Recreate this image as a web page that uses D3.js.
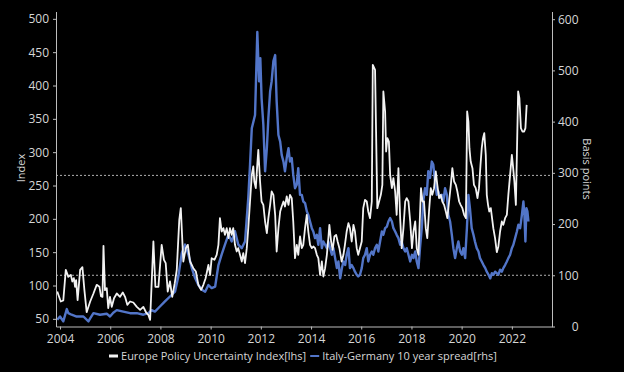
<!DOCTYPE html>
<html><head><meta charset="utf-8">
<script src="https://cdn.jsdelivr.net/npm/d3@7"></script>
<style>
html,body{margin:0;padding:0;background:#000;}
svg{display:block;}
text{font-family:"Open Sans",sans-serif;}
</style></head>
<body>
<svg id="chart" width="624" height="372"></svg>
<script>
// ---- data (decimal year, value) ----
const epuSeries = [[2003.89,91],[2004.03,76],[2004.13,77.5],[2004.23,123.5],[2004.33,113],[2004.43,116],[2004.49,106],[2004.55,111],[2004.60,98],[2004.64,108],[2004.70,78],[2004.80,123.5],[2004.89,127.5],[2004.97,93],[2005.06,60],[2005.20,76],[2005.33,88],[2005.46,101],[2005.57,98],[2005.63,84],[2005.69,83],[2005.73,159.5],[2005.79,93],[2005.86,96],[2005.92,66],[2005.99,83],[2006.06,68],[2006.15,81],[2006.26,88],[2006.39,83],[2006.50,89.5],[2006.59,83],[2006.68,71],[2006.79,76],[2006.92,74.5],[2007.06,68],[2007.19,63.5],[2007.32,68],[2007.43,59.5],[2007.52,56],[2007.59,48.5],[2007.72,166],[2007.80,98],[2007.92,98],[2008.05,161],[2008.14,138.5],[2008.21,133.5],[2008.29,91],[2008.38,106],[2008.47,83],[2008.57,103.5],[2008.65,123.5],[2008.75,198.5],[2008.81,216],[2008.91,136],[2009.01,156],[2009.09,161],[2009.18,136],[2009.31,126],[2009.41,121],[2009.51,101],[2009.62,93.5],[2009.71,101],[2009.80,111],[2009.91,131],[2009.98,116],[2010.04,141],[2010.15,138.5],[2010.24,146],[2010.31,161],[2010.37,201],[2010.44,181],[2010.51,186],[2010.57,176],[2010.64,186],[2010.71,171],[2010.77,186],[2010.84,176],[2010.90,186],[2010.97,161],[2011.04,151],[2011.10,156],[2011.17,146],[2011.24,136],[2011.30,148.5],[2011.37,133.5],[2011.44,156],[2011.50,186],[2011.57,226],[2011.64,266],[2011.70,278.5],[2011.74,256],[2011.80,246],[2011.85,276],[2011.90,303.5],[2011.97,256],[2012.03,226],[2012.10,221],[2012.17,196],[2012.24,178.5],[2012.30,201],[2012.37,221],[2012.43,241],[2012.50,236],[2012.57,206],[2012.63,151],[2012.70,186],[2012.77,211],[2012.83,218.5],[2012.90,226],[2012.96,218.5],[2013.03,233.5],[2013.10,221],[2013.16,236],[2013.23,231],[2013.29,196],[2013.36,141],[2013.43,161],[2013.49,146],[2013.56,173.5],[2013.63,156],[2013.69,161],[2013.76,186],[2013.83,206],[2013.89,181],[2013.96,161],[2014.03,156],[2014.09,158.5],[2014.16,156],[2014.23,146],[2014.29,141],[2014.36,116],[2014.43,136],[2014.49,113.5],[2014.56,126],[2014.63,146],[2014.69,171],[2014.73,191],[2014.80,166],[2014.86,153.5],[2014.93,173.5],[2015.00,176],[2015.06,166],[2015.13,156],[2015.22,136],[2015.29,146],[2015.35,161],[2015.42,181],[2015.49,193.5],[2015.55,186],[2015.62,166],[2015.69,191],[2015.75,181],[2015.82,156],[2015.88,146],[2015.95,156],[2016.02,166],[2016.08,216],[2016.15,228.5],[2016.22,226],[2016.28,211],[2016.35,201],[2016.42,226],[2016.46,431],[2016.55,423.5],[2016.59,331],[2016.64,216],[2016.71,226],[2016.78,236],[2016.84,251],[2016.88,391],[2016.95,361],[2016.99,301],[2017.04,321],[2017.10,316],[2017.15,266],[2017.22,246],[2017.28,261],[2017.35,241],[2017.41,206],[2017.48,276],[2017.55,201],[2017.61,156],[2017.68,186],[2017.75,226],[2017.81,231],[2017.88,226],[2017.95,196],[2018.02,156],[2018.08,181],[2018.15,196],[2018.21,156],[2018.28,146],[2018.34,206],[2018.38,246],[2018.44,226],[2018.50,226],[2018.57,186],[2018.63,171],[2018.70,211],[2018.77,246],[2018.83,236],[2018.90,246],[2018.97,271],[2019.03,251],[2019.10,231],[2019.17,236],[2019.23,226],[2019.30,221],[2019.37,211],[2019.43,201],[2019.50,226],[2019.57,251],[2019.63,276],[2019.70,256],[2019.77,251],[2019.83,241],[2019.90,226],[2019.96,221],[2020.03,216],[2020.10,206],[2020.17,201],[2020.22,361],[2020.27,346],[2020.31,306],[2020.36,286],[2020.43,276],[2020.49,251],[2020.56,246],[2020.63,231],[2020.69,246],[2020.75,281],[2020.80,306],[2020.85,321],[2020.90,328.5],[2020.96,296],[2021.00,236],[2021.05,221],[2021.10,211],[2021.16,216],[2021.21,201],[2021.26,186],[2021.33,171],[2021.40,150],[2021.46,158],[2021.53,181],[2021.60,196],[2021.66,191],[2021.73,201],[2021.80,206],[2021.86,236],[2021.93,266],[2022.00,296],[2022.04,281],[2022.10,256],[2022.16,221],[2022.20,296],[2022.25,391],[2022.30,381],[2022.36,336],[2022.42,331],[2022.49,331],[2022.54,336],[2022.59,371]];

const spreadSeries = [[2003.89,13],[2004.00,19.5],[2004.13,10],[2004.27,34],[2004.33,26],[2004.46,23],[2004.66,19.5],[2004.93,19.5],[2005.13,10],[2005.20,16],[2005.33,26],[2005.59,23],[2005.86,25],[2005.99,19.5],[2006.12,27],[2006.26,32],[2006.52,29],[2006.79,26],[2007.06,26],[2007.32,23],[2007.52,26],[2007.65,32],[2007.78,29],[2007.98,39],[2008.18,49],[2008.38,58.6],[2008.58,68],[2008.71,97],[2008.85,143],[2008.98,160],[2009.11,141],[2009.25,114],[2009.38,94.5],[2009.51,81],[2009.65,71.7],[2009.78,68],[2009.91,81],[2010.04,75],[2010.18,78],[2010.31,120],[2010.44,141],[2010.57,160],[2010.71,179.5],[2010.84,166],[2010.97,186],[2011.10,160],[2011.24,153],[2011.37,166],[2011.50,251],[2011.57,316],[2011.64,387],[2011.77,413],[2011.86,575],[2011.93,478.5],[2011.98,524],[2012.03,446],[2012.10,394],[2012.17,303],[2012.24,348],[2012.30,407],[2012.37,459],[2012.43,478.5],[2012.50,518],[2012.57,530],[2012.63,439],[2012.70,374],[2012.77,361],[2012.83,335],[2012.90,322],[2012.96,303],[2013.03,329],[2013.10,348],[2013.16,322],[2013.23,329],[2013.29,296],[2013.36,270],[2013.43,277],[2013.49,309],[2013.56,257],[2013.63,257],[2013.69,244],[2013.76,241],[2013.83,225],[2013.89,218],[2013.96,205],[2014.03,192],[2014.09,185.5],[2014.16,172.5],[2014.23,179],[2014.29,159.5],[2014.36,192],[2014.43,153],[2014.49,166],[2014.56,159.5],[2014.63,153],[2014.69,166],[2014.76,153],[2014.83,140],[2014.89,153],[2014.96,133.5],[2015.03,114],[2015.09,127],[2015.16,94],[2015.23,114],[2015.29,127],[2015.36,120],[2015.42,140],[2015.49,153],[2015.55,114],[2015.62,120],[2015.69,114],[2015.75,107],[2015.82,101],[2015.88,97.7],[2015.95,101],[2016.02,114],[2016.08,133.5],[2016.15,140],[2016.22,153],[2016.28,127],[2016.35,140],[2016.42,146.5],[2016.48,140],[2016.55,153],[2016.62,159.5],[2016.68,146.5],[2016.75,166],[2016.82,185.5],[2016.88,179],[2016.95,192],[2017.02,195],[2017.08,205],[2017.15,211.6],[2017.22,205],[2017.28,192],[2017.35,185.5],[2017.41,179],[2017.48,172.5],[2017.55,159.5],[2017.61,166],[2017.68,153],[2017.75,146.5],[2017.81,153],[2017.88,140],[2017.95,127],[2018.02,140],[2018.08,133.5],[2018.15,146.5],[2018.21,127],[2018.28,114],[2018.34,153],[2018.41,192],[2018.47,244],[2018.54,270],[2018.61,257],[2018.67,303],[2018.74,290],[2018.81,322],[2018.87,316],[2018.94,283],[2019.01,257],[2019.07,264],[2019.14,251],[2019.21,257],[2019.27,244],[2019.34,270],[2019.41,257],[2019.47,218],[2019.54,205],[2019.61,179],[2019.67,153],[2019.74,133.5],[2019.81,153],[2019.87,166],[2019.94,146.5],[2020.01,140],[2020.07,153],[2020.14,133.5],[2020.21,192],[2020.27,257],[2020.33,231],[2020.40,192],[2020.47,179],[2020.53,166],[2020.60,153],[2020.67,146.5],[2020.73,133.5],[2020.80,127],[2020.87,120],[2020.94,114],[2021.00,107],[2021.07,101],[2021.14,94],[2021.20,104],[2021.27,101],[2021.33,107],[2021.40,104],[2021.46,101],[2021.53,111],[2021.60,107],[2021.66,114],[2021.73,120],[2021.80,127],[2021.86,133.5],[2021.93,140],[2022.00,153],[2022.06,159.5],[2022.13,172.5],[2022.20,185.5],[2022.26,198.6],[2022.33,192],[2022.40,218],[2022.46,244],[2022.50,218],[2022.54,166],[2022.58,231],[2022.62,225],[2022.66,205]];

const leftTicks = [50,100,150,200,250,300,350,400,450,500];
const rightTicks = [0,100,200,300,400,500,600];
const yearTicks = [2004,2006,2008,2010,2012,2014,2016,2018,2020,2022];
const refLines = [295,100]; // right-axis reference levels
const labels = {
  left: "Index",
  right: "Basis points",
  s1: "Europe Policy Uncertainty Index[lhs]",
  s2: "Italy-Germany 10 year spread[rhs]"
};

// ---- helpers ----
function yr(t){
  const y = Math.floor(t), f = t - y;
  const a = new Date(y,0,1), b = new Date(y+1,0,1);
  return new Date(a.getTime() + f*(b-a));
}

const svg = d3.select("#chart");
svg.append("rect").attr("width",624).attr("height",372).attr("fill","#000");

const X0=56, X1=552, Y0=326.5, Y1=11.5;
const x = d3.scaleTime().domain([yr(2003.84), yr(2023.6)]).range([X0,X1]);
const yL = d3.scaleLinear().domain([38.5,511]).range([Y0,Y1]);
const yR = d3.scaleLinear().domain([0,615]).range([Y0,Y1]);

const axisColor = "#bdbdbd", textColor = "#d6d6d6";

// reference dotted lines
svg.append("g").selectAll("line").data(refLines).join("line")
  .attr("x1",X0).attr("x2",X1)
  .attr("y1",d=>yR(d)).attr("y2",d=>yR(d))
  .attr("stroke","#b0b0b0").attr("stroke-width",1).attr("stroke-dasharray","2,2");

// lines
const lineR = d3.line().x(d=>x(yr(d[0]))).y(d=>yR(d[1]));
const lineL = d3.line().x(d=>x(yr(d[0]))).y(d=>yL(d[1]));
svg.append("path").datum(spreadSeries).attr("d",lineR)
  .attr("fill","none").attr("stroke","#5275c8").attr("stroke-width",2.4).attr("stroke-linejoin","round");
svg.append("path").datum(epuSeries).attr("d",lineL)
  .attr("fill","none").attr("stroke","#f2f2f2").attr("stroke-width",1.8).attr("stroke-linejoin","round");

// axes
function styleAxis(g){
  g.selectAll(".domain").attr("stroke",axisColor);
  g.selectAll(".tick line").attr("stroke",axisColor);
  g.selectAll(".tick text").attr("fill",textColor).style("font-size","12px").style("font-family","'Open Sans',sans-serif");
}
const gL = svg.append("g").attr("transform",`translate(${X0},0)`)
  .call(d3.axisLeft(yL).tickValues(leftTicks).tickSize(3).tickSizeOuter(0).tickPadding(4));
styleAxis(gL);
const gR = svg.append("g").attr("transform",`translate(${X1},0)`)
  .call(d3.axisRight(yR).tickValues(rightTicks).tickSize(3).tickSizeOuter(0).tickPadding(4));
styleAxis(gR);
gR.selectAll(".tick text").attr("text-anchor","end").attr("x",26.5);
const gB = svg.append("g").attr("transform",`translate(0,${Y0})`)
  .call(d3.axisBottom(x).tickValues(yearTicks.map(v=>new Date(v,0,1))).tickFormat(d3.timeFormat("%Y")).tickSize(3).tickSizeOuter(0).tickPadding(5));
styleAxis(gB);

// axis titles
svg.append("text").attr("transform","translate(25,168) rotate(-90)")
  .attr("text-anchor","middle").attr("fill",textColor).style("font-size","11px").text(labels.left);
svg.append("text").attr("transform","translate(583,169) rotate(90)")
  .attr("text-anchor","middle").attr("fill",textColor).style("font-size","11px").text(labels.right);

// legend
const lg = svg.append("g");
const ly = 356;
const t1 = lg.append("text").attr("y",ly).attr("dy","0.35em").attr("fill",textColor).style("font-size","11px").text(labels.s1);
const t2 = lg.append("text").attr("y",ly).attr("dy","0.35em").attr("fill",textColor).style("font-size","11px").text(labels.s2);
const w1 = t1.node().getComputedTextLength(), w2 = t2.node().getComputedTextLength();
const mk = 9, gap = 3, sep = 4;
const total = mk+gap+w1+sep+mk+gap+w2;
let cx = 303 - total/2;
lg.append("line").attr("x1",cx).attr("x2",cx+mk).attr("y1",ly).attr("y2",ly).attr("stroke","#f2f2f2").attr("stroke-width",3);
t1.attr("x",cx+mk+gap);
cx += mk+gap+w1+sep;
lg.append("line").attr("x1",cx).attr("x2",cx+mk).attr("y1",ly).attr("y2",ly).attr("stroke","#5275c8").attr("stroke-width",2);
t2.attr("x",cx+mk+gap);
</script>
</body></html>
